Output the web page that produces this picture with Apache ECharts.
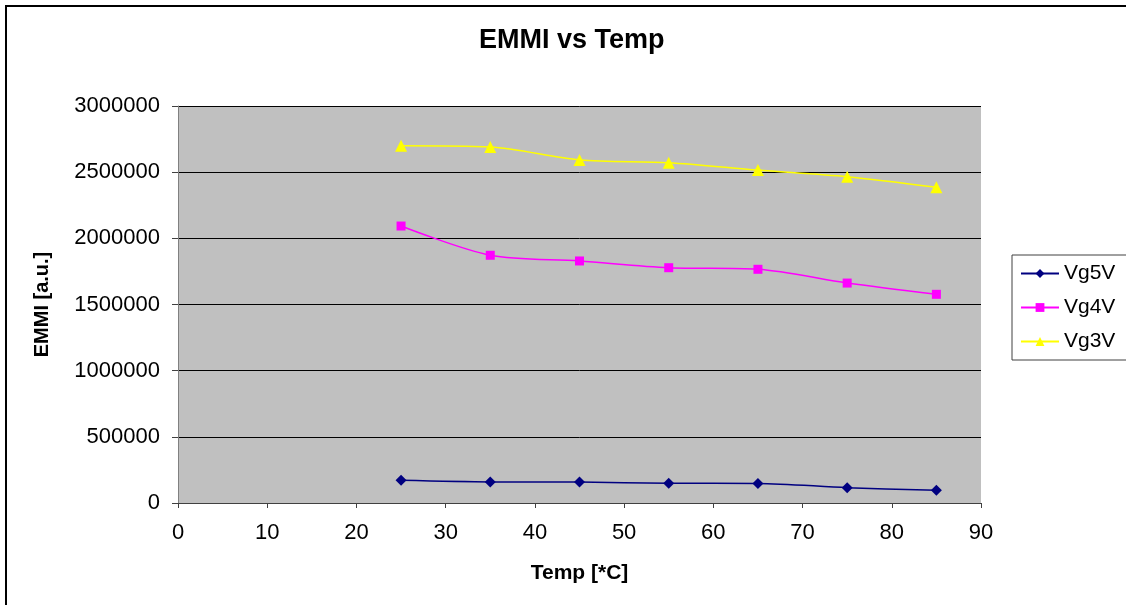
<!DOCTYPE html>
<html>
<head>
<meta charset="utf-8">
<script src="https://cdn.jsdelivr.net/npm/echarts@6/dist/echarts.min.js"></script>
<style>
  html, body { margin: 0; padding: 0; background: #fff; }
  #chart { width: 1126px; height: 605px; }
</style>
</head>
<body>
<div id="chart"></div>
<script>
// temperatures [°C]
const temps = [25, 35, 45, 55, 65, 75, 85];
// EMMI intensity per gate voltage
const vg5v = [171000, 159000, 158000, 149000, 148000, 116000, 96000];
const vg4v = [2093000, 1872000, 1829000, 1778000, 1766000, 1662000, 1577000];
const vg3v = [2700000, 2690000, 2592000, 2572000, 2516000, 2466000, 2386000];
const seriesNames = ["Vg5V", "Vg4V", "Vg3V"];

const pair = (vals) => temps.map((t, i) => [t, vals[i]]);

const chart = echarts.init(document.getElementById("chart"));

chart.setOption({
  animation: false,
  backgroundColor: "#fff",
  textStyle: { fontFamily: "Liberation Sans" },
  title: {
    text: "EMMI vs Temp",
    left: 474,
    top: 22,
    padding: 5,
    textStyle: { fontFamily: "Liberation Sans", fontWeight: "bold", fontSize: 27, color: "#000" }
  },
  graphic: [
    {
      type: "rect",
      shape: { x: 6, y: 6, width: 1400, height: 900 },
      style: { fill: null, stroke: "#000", lineWidth: 2 },
      silent: true
    }
  ],
  legend: {
    orient: "vertical",
    left: 1012,
    top: 255,
    width: 140,
    padding: [8, 30, 8, 8],
    itemGap: 13,
    itemWidth: 38,
    itemHeight: 11,
    borderColor: "#404040",
    borderWidth: 1,
    data: seriesNames,
    textStyle: { fontSize: 21, color: "#000", fontFamily: "Liberation Sans" }
  },
  grid: {
    left: 178,
    right: 145,
    top: 106,
    bottom: 102,
    show: true,
    backgroundColor: "#C0C0C0",
    borderWidth: 0
  },
  xAxis: {
    type: "value",
    min: 0,
    max: 90,
    interval: 10,
    name: "Temp [*C]",
    nameLocation: "middle",
    nameGap: 60,
    nameTextStyle: { fontWeight: "bold", fontSize: 21, color: "#000" },
    axisLine: { lineStyle: { color: "#404040", width: 1 } },
    axisTick: { show: true, inside: false, length: 5, lineStyle: { color: "#404040" } },
    axisLabel: { fontSize: 22, color: "#000", margin: 19 },
    splitLine: { show: false }
  },
  yAxis: {
    type: "value",
    min: 0,
    max: 3000000,
    interval: 500000,
    name: "EMMI [a.u.]",
    nameLocation: "middle",
    nameGap: 126,
    nameTextStyle: { fontWeight: "bold", fontSize: 20, color: "#000" },
    axisLine: { show: true, lineStyle: { color: "#808080", width: 1 } },
    axisTick: { show: true, inside: false, length: 6, lineStyle: { color: "#404040" } },
    axisLabel: { fontSize: 22, color: "#000", margin: 18, formatter: (v) => String(v) },
    splitLine: { show: true, lineStyle: { color: "#000", width: 1 } }
  },
  series: [
    {
      name: "Vg5V",
      type: "line",
      smooth: 0.3,
      data: pair(vg5v),
      symbol: "diamond",
      symbolSize: 11,
      color: "#000080",
      lineStyle: { width: 1.5, color: "#000080" },
      itemStyle: { color: "#000080" }
    },
    {
      name: "Vg4V",
      type: "line",
      smooth: 0.3,
      data: pair(vg4v),
      symbol: "rect",
      symbolSize: 9,
      color: "#FF00FF",
      lineStyle: { width: 1.5, color: "#FF00FF" },
      itemStyle: { color: "#FF00FF" }
    },
    {
      name: "Vg3V",
      type: "line",
      smooth: 0.3,
      data: pair(vg3v),
      symbol: "triangle",
      symbolSize: 12,
      color: "#FFFF00",
      lineStyle: { width: 1.5, color: "#FFFF00" },
      itemStyle: { color: "#FFFF00" }
    }
  ]
});
</script>
</body>
</html>
